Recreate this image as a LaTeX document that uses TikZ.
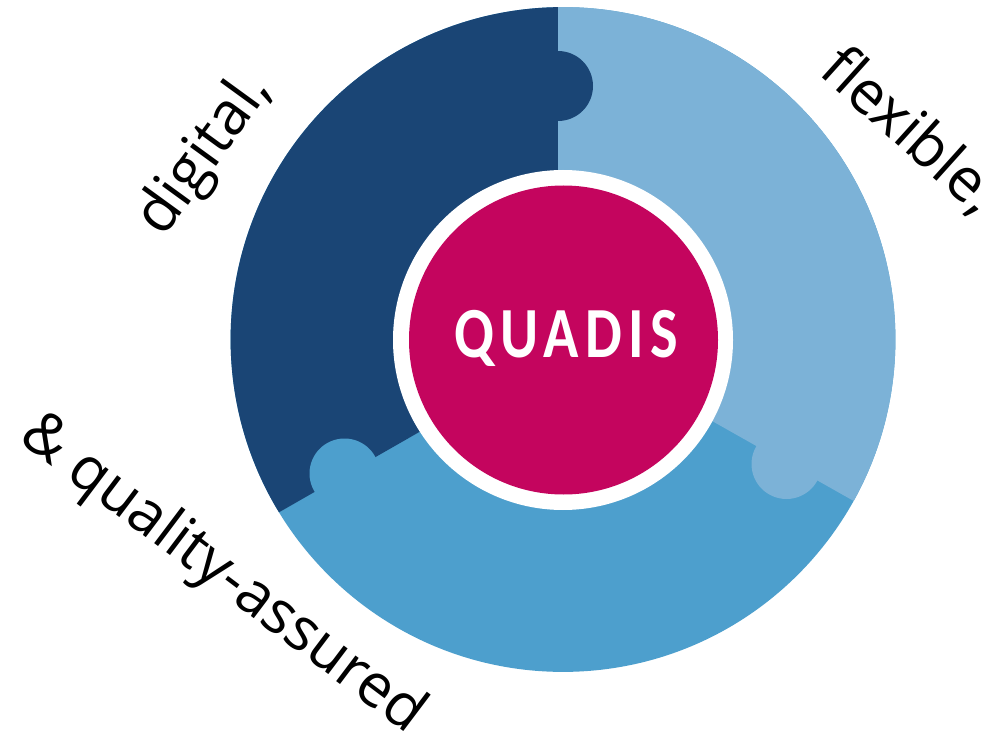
\documentclass[tikz,border=0pt]{standalone}
\usepackage{fontspec}
\setmainfont{Open Sans}
\newfontfamily\hubfont{Carlito}
\definecolor{pieceDark}{HTML}{1A4575}
\definecolor{pieceLight}{HTML}{7CB2D7}
\definecolor{pieceMid}{HTML}{4D9FCD}
\definecolor{hubColor}{HTML}{C4055E}
\tikzset{
  outerlabel/.style={inner sep=0pt,text=black,font=\fontsize{60}{66}\selectfont},
  hublabel/.style={inner sep=0pt,text=white,xscale=.81,font=\hubfont\fontsize{72}{76}\selectfont\bfseries}
}
\begin{document}
\begin{tikzpicture}[x=1pt,y=-1pt]
\useasboundingbox (0,0) rectangle (983,738);
\fill[white] (0,0) rectangle (983,738);
\begin{scope}
  \clip (563,339.5) circle[radius=332.4];
  \fill[pieceMid] (563,340) circle[radius=334];
  \fill[pieceDark] (558,0) -- (558,352.6) -- (0,672) -- (0,0) -- cycle;
  \fill[pieceLight] (558,0) -- (558,334) -- (983,574) -- (983,0) -- cycle;
  \fill[pieceDark] (558,86) circle[radius=35];
  \fill[pieceMid] (344.5,473.5) circle[radius=35];
  \fill[pieceLight] (786.5,464) circle[radius=35];
\end{scope}
\fill[white] (563,340) circle[radius=170];
\fill[hubColor] (563.5,340) circle[radius=154.5];
\node[hublabel] (hub) at (566,338) {\addfontfeature{LetterSpace=11}QUADIS};
\node[outerlabel,rotate=54] (digital) at (205,155) {digital,};
\node[outerlabel,rotate=-42] (flexible) at (910,131) {flexible,};
\node[outerlabel,rotate=-37] (quality) at (222,575) {\& quality-assured};
\end{tikzpicture}
\end{document}
